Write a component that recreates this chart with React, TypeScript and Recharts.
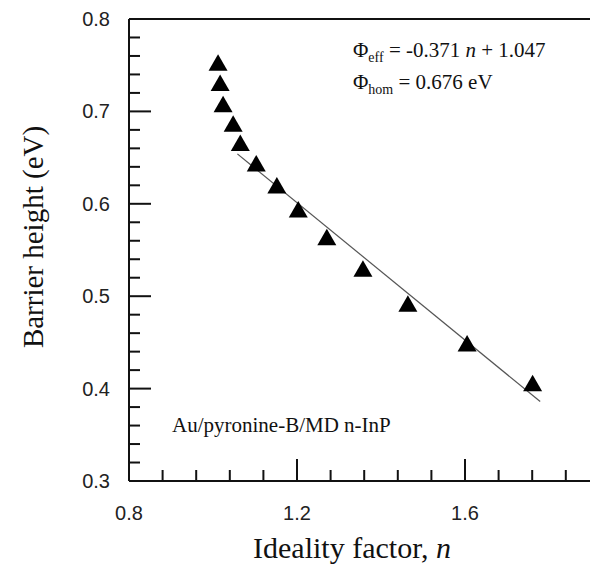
import { ComposedChart, Line, ReferenceLine, Scatter, XAxis, YAxis } from "recharts";

// measured points (Au/pyronine-B/MD n-InP)
const idealityFactor = [
  1.012, 1.017, 1.024, 1.048, 1.065, 1.103, 1.152, 1.203, 1.271, 1.357, 1.464,
  1.605, 1.761,
];
const barrierHeight = [
  0.75, 0.728, 0.705, 0.684, 0.663, 0.641, 0.617, 0.591, 0.561, 0.527, 0.489,
  0.446, 0.403,
];

// linear fit end points
const fitN = [1.058, 1.779];
const fitPhi = [0.654, 0.386];

const xTicks = [
  0.8, 0.88, 0.96, 1.04, 1.12, 1.2, 1.28, 1.36, 1.44, 1.52, 1.6, 1.68, 1.76,
  1.84, 1.92, 2.0,
];
const xMajor = [0.8, 1.2, 1.6, 2.0];
const xLabels = [0.8, 1.2, 1.6]; // 2.0 falls outside the cropped figure
const yTicks = [
  0.3, 0.32, 0.34, 0.36, 0.38, 0.4, 0.42, 0.44, 0.46, 0.48, 0.5, 0.52, 0.54,
  0.56, 0.58, 0.6, 0.62, 0.64, 0.66, 0.68, 0.7, 0.72, 0.74, 0.76, 0.78, 0.8,
];
const yMajor = [0.3, 0.4, 0.5, 0.6, 0.7, 0.8];

const points = idealityFactor.map((n, i) => ({ n, phi: barrierHeight[i] }));
const fit = fitN.map((n, i) => ({ n, phi: fitPhi[i] }));

const INK = "#111";
const SANS = "'Liberation Sans', Arial, sans-serif";
const SERIF = "'Liberation Serif', 'Times New Roman', serif";

const inList = (list: number[], v: number) =>
  list.some((m) => Math.abs(m - v) < 1e-6);

function XTick(props: any) {
  const { x, y, payload } = props;
  const major = inList(xMajor, payload.value);
  return (
    <g>
      <line x1={x} x2={x} y1={y} y2={y - (major ? 22 : 11)} stroke={INK} strokeWidth={2} />
      {inList(xLabels, payload.value) && (
        <text x={x} y={y + 39} textAnchor="middle" fontFamily={SANS} fontSize={20} fill="#222">
          {payload.value.toFixed(1)}
        </text>
      )}
    </g>
  );
}

function YTick(props: any) {
  const { x, y, payload } = props;
  const major = inList(yMajor, payload.value);
  return (
    <g>
      <line x1={x} x2={x + (major ? 22 : 11)} y1={y} y2={y} stroke={INK} strokeWidth={2} />
      {major && (
        <text x={x - 19} y={y + 7} textAnchor="end" fontFamily={SANS} fontSize={20} fill="#222">
          {payload.value.toFixed(1)}
        </text>
      )}
    </g>
  );
}

function Triangle(props: any) {
  const { cx, cy } = props;
  return (
    <polygon
      points={`${cx},${cy - 11} ${cx - 9.5},${cy + 5.5} ${cx + 9.5},${cy + 5.5}`}
      fill="#000"
    />
  );
}

export default function App() {
  return (
    <div
      style={{
        position: "absolute",
        left: 0,
        top: 0,
        width: 590,
        height: 565,
        overflow: "hidden",
        background: "#fff",
      }}
    >
      <ComposedChart
        width={700}
        height={565}
        margin={{ top: 19, right: 67, bottom: 0, left: 0 }}
      >
        <XAxis
          type="number"
          dataKey="n"
          domain={[0.8, 2.0]}
          ticks={xTicks}
          interval={0}
          allowDataOverflow
          height={84}
          tickLine={false}
          tickSize={0}
          tickMargin={0}
          tick={<XTick />}
          axisLine={{ stroke: INK, strokeWidth: 2 }}
        />
        <YAxis
          type="number"
          dataKey="phi"
          domain={[0.3, 0.8]}
          ticks={yTicks}
          interval={0}
          allowDataOverflow
          width={129}
          tickLine={false}
          tickSize={0}
          tickMargin={0}
          tick={<YTick />}
          axisLine={{ stroke: INK, strokeWidth: 2 }}
        />
        <ReferenceLine y={0.8} stroke={INK} strokeWidth={2} />
        <ReferenceLine x={2.0} stroke={INK} strokeWidth={2} />
        <Line
          data={fit}
          dataKey="phi"
          stroke="#555"
          strokeWidth={1.2}
          dot={false}
          isAnimationActive={false}
        />
        <Scatter
          data={points}
          dataKey="phi"
          shape={<Triangle />}
          isAnimationActive={false}
        />
      </ComposedChart>

      <div
        style={{
          position: "absolute",
          left: 353,
          top: 38,
          fontFamily: SERIF,
          fontSize: 21,
          lineHeight: "25px",
          color: INK,
          whiteSpace: "nowrap",
        }}
      >
        <div>
          Φ<sub style={{ fontSize: 14 }}>eff</sub> = -0.371 <i>n</i> + 1.047
        </div>
        <div>
          Φ<sub style={{ fontSize: 14 }}>hom</sub> = 0.676 eV
        </div>
      </div>

      <div
        style={{
          position: "absolute",
          left: 172,
          top: 413,
          fontFamily: SERIF,
          fontSize: 21,
          color: INK,
          whiteSpace: "nowrap",
        }}
      >
        Au/pyronine-B/MD n-InP
      </div>

      <div
        style={{
          position: "absolute",
          left: 352,
          top: 548,
          transform: "translate(-50%, -50%)",
          fontFamily: SERIF,
          fontSize: 30,
          color: INK,
          whiteSpace: "nowrap",
        }}
      >
        Ideality factor, <i>n</i>
      </div>

      <div
        style={{
          position: "absolute",
          left: 33,
          top: 237,
          transform: "translate(-50%, -50%) rotate(-90deg)",
          fontFamily: SERIF,
          fontSize: 29,
          color: INK,
          whiteSpace: "nowrap",
        }}
      >
        Barrier height (eV)
      </div>
    </div>
  );
}
